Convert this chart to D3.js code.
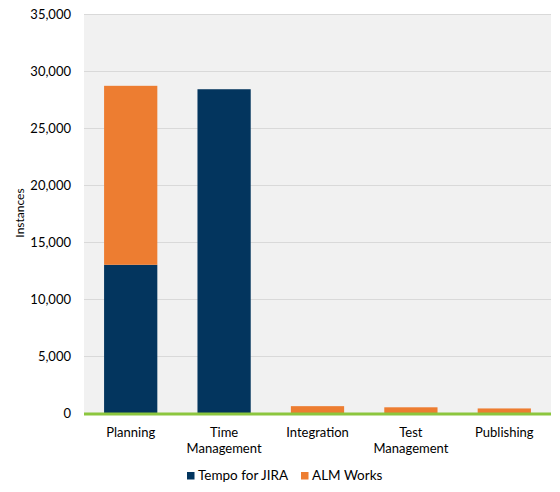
<!DOCTYPE html>
<html><head><meta charset="utf-8">
<script src="https://cdn.jsdelivr.net/npm/d3@7"></script>
<style>body{margin:0;background:#fff;} text{font-family:Lato, "Open Sans", sans-serif;}</style>
</head><body>
<svg id="c" width="560" height="492"></svg>
<script>
const categories = [["Planning"],["Time","Management"],["Integration"],["Test","Management"],["Publishing"]];
const tempo = [13000, 28400, 0, 0, 0];
const alm = [15700, 0, 600, 500, 400];
const seriesNames = ["Tempo for JIRA","ALM Works"];
const colors = ["#03355e","#ed7d31"];
const yTicks = [0,5000,10000,15000,20000,25000,30000,35000];

const svg = d3.select("#c");
const m = {l:84, r:9, t:14, b:80};
const W = 560, H = 492;
const x = d3.scaleBand().domain(categories.map((d,i)=>i)).range([m.l, W-m.r]).paddingInner(0.43).paddingOuter(0.215);
const y = d3.scaleLinear().domain([0,35000]).range([413, m.t]);

svg.append("rect").attr("x", m.l).attr("y", m.t).attr("width", W-m.r-m.l).attr("height", 413-m.t).attr("fill","#f1f1f1");

const gy = svg.append("g").attr("transform",`translate(${m.l},0)`)
  .call(d3.axisLeft(y).tickValues(yTicks).tickSize(-(W-m.r-m.l)).tickPadding(13).tickFormat(d3.format(",")));
gy.select(".domain").remove();
gy.selectAll(".tick line").attr("stroke","#d9d9d9").attr("stroke-width",1);
gy.selectAll(".tick text").attr("fill","#000").style("font-size","13px");

const stack = categories.map((c,i)=>({i, t: tempo[i], a: alm[i]}));
svg.append("g").selectAll("rect.t").data(stack).join("rect")
  .attr("x", d=>x(d.i)).attr("width", x.bandwidth())
  .attr("y", d=>y(d.t)).attr("height", d=>y(0)-y(d.t)).attr("fill", colors[0]);
svg.append("g").selectAll("rect.a").data(stack).join("rect")
  .attr("x", d=>x(d.i)).attr("width", x.bandwidth())
  .attr("y", d=>y(d.t+d.a)).attr("height", d=>y(d.t)-y(d.t+d.a)).attr("fill", colors[1]);

svg.append("line").attr("x1", m.l).attr("x2", W-m.r).attr("y1", y(0)+1).attr("y2", y(0)+1)
  .attr("stroke","#8cc63e").attr("stroke-width",3);

const gx = svg.append("g");
categories.forEach((lines,i)=>{
  const t = gx.append("text").attr("x", x(i)+x.bandwidth()/2).attr("y", 437)
    .attr("text-anchor","middle").style("font-size","13px").attr("fill","#000");
  lines.forEach((l,j)=>t.append("tspan").attr("x", x(i)+x.bandwidth()/2).attr("dy", j===0?0:16).text(l));
});

svg.append("text").attr("transform","translate(24,213) rotate(-90)").attr("text-anchor","middle")
  .style("font-size","12px").text("Instances");

const lg = svg.append("g");
const legX = [187, 301];
seriesNames.forEach((n,i)=>{
  lg.append("rect").attr("x", legX[i]).attr("y", 472).attr("width",7.5).attr("height",7.5).attr("fill",colors[i]);
  lg.append("text").attr("x", legX[i]+11).attr("y", 480).style("font-size","13.5px").text(n);
});
</script>
</body></html>
